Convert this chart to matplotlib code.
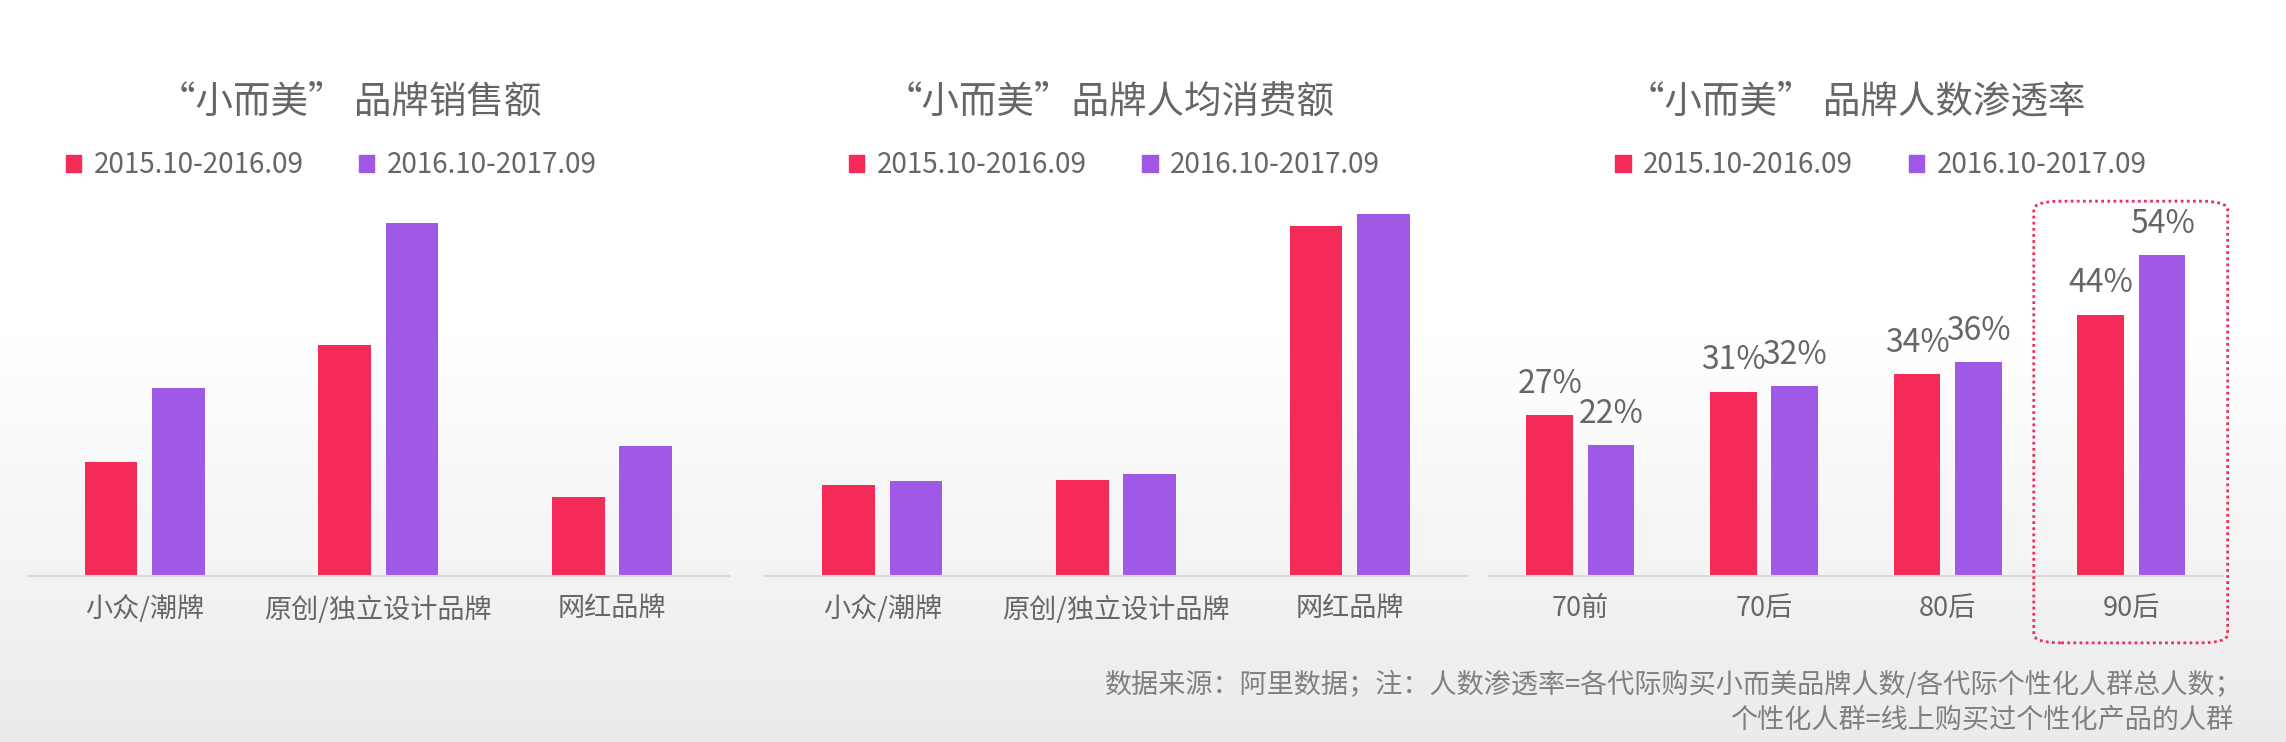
import numpy as np
import matplotlib
matplotlib.use('Agg')
import matplotlib.pyplot as plt
from matplotlib.patches import FancyBboxPatch, Patch

plt.rcParams['font.family'] = ['Noto Sans CJK SC', 'DejaVu Sans']

# data
series = ['2015.10-2016.09', '2016.10-2017.09']
brand_cats = ['小众/潮牌', '原创/独立设计品牌', '网红品牌']
sales_1516 = [78, 158, 54]
sales_1617 = [129, 242, 89]
spend_1516 = [62, 66, 240]
spend_1617 = [65, 70, 248]
age_cats = ['70前', '70后', '80后', '90后']
pen_1516 = [27, 31, 34, 44]
pen_1617 = [22, 32, 36, 54]

titles = ['“小而美” 品牌销售额', '“小而美”品牌人均消费额', '“小而美” 品牌人数渗透率']
note1 = '数据来源：阿里数据；注：人数渗透率=各代际购买小而美品牌人数/各代际个性化人群总人数；'
note2 = '个性化人群=线上购买过个性化产品的人群'

RED = '#f52a58'
PURPLE = '#9f59e6'
GRAY = '#666666'

W, H = 1568.0, 509.0  # layout measured in these units
fig = plt.figure(figsize=(22.86, 7.42), dpi=100)

# background gradient
bg = fig.add_axes([0, 0, 1, 1], zorder=-10)
grad = np.concatenate([np.ones(230), np.linspace(1, 0, 279)])[:, None]
bg.imshow(grad, aspect='auto', cmap=matplotlib.colors.LinearSegmentedColormap.from_list('g', ['#ebebeb', '#ffffff']),
          extent=[0, 1, 0, 1], vmin=0, vmax=1)
bg.axis('off')


def make_ax(x0, x1, top=140, base=395):
    return fig.add_axes([x0 / W, 1 - base / H, (x1 - x0) / W, (base - top) / H])


def style(ax, cats, n):
    ax.set_facecolor('none')
    for s in ['top', 'right', 'left']:
        ax.spines[s].set_visible(False)
    ax.spines['bottom'].set_color('#d9d9d9')
    ax.spines['bottom'].set_linewidth(1.5)
    ax.set_yticks([])
    ax.set_xticks(range(n))
    ax.set_xticklabels(cats, fontsize=19.5, color=GRAY)
    ax.tick_params(axis='x', length=0, pad=14)
    ax.set_xlim(-0.5, n - 0.5)


def legend(ax, cx):
    handles = [Patch(color=RED), Patch(color=PURPLE)]
    ax.legend(handles, series, loc='center', bbox_to_anchor=(cx, 1.105), ncol=2, frameon=False,
              fontsize=20, labelcolor=GRAY, handlelength=0.55, handleheight=0.55, handletextpad=0.45,
              columnspacing=2.0)


# panel 1
ax1 = make_ax(19, 500)
x = np.arange(len(brand_cats))
ax1.bar(x - 0.144, sales_1516, 0.225, color=RED)
ax1.bar(x + 0.144, sales_1617, 0.225, color=PURPLE)
ax1.set_ylim(0, 255)
style(ax1, brand_cats, len(brand_cats))
legend(ax1, 0.433)

# panel 2
ax2 = make_ax(525, 1006)
ax2.bar(x - 0.144, spend_1516, 0.225, color=RED)
ax2.bar(x + 0.144, spend_1617, 0.225, color=PURPLE)
ax2.set_ylim(0, 255)
style(ax2, brand_cats, len(brand_cats))
legend(ax2, 0.498)

# panel 3
ax3 = make_ax(1021, 1525)
xa = np.arange(len(age_cats))
b1 = ax3.bar(xa - 0.167, pen_1516, 0.254, color=RED)
b2 = ax3.bar(xa + 0.167, pen_1617, 0.254, color=PURPLE)
ax3.set_ylim(0, 62.6)
style(ax3, age_cats, len(age_cats))
legend(ax3, 0.534)
for bars, vals in [(b1, pen_1516), (b2, pen_1617)]:
    for b, v in zip(bars, vals):
        ax3.annotate('{}%'.format(v), (b.get_x() + b.get_width() / 2, v), xytext=(0, 11),
                     textcoords='offset points', ha='center', va='bottom', fontsize=23, color=GRAY)

# dotted highlight box around 90后
box = FancyBboxPatch((1395 / W, 1 - 441 / H), 133 / W, 303 / H,
                     boxstyle='round,pad=0,rounding_size=0.012', transform=fig.transFigure,
                     fill=False, edgecolor='#e8305a', linestyle=(0, (1, 1.2)), linewidth=2)
fig.patches.append(box)

# titles
for cx, t in zip([240, 761, 1273], titles):
    fig.text(cx / W, 1 - 70 / H, t, ha='center', va='center', fontsize=27, color=GRAY)

# footer notes
fig.text(1538 / W, 1 - 470 / H, note1, ha='right', va='center', fontsize=19.5, color='#7f7f7f')
fig.text(1532 / W, 1 - 494 / H, note2, ha='right', va='center', fontsize=19.5, color='#7f7f7f')

fig.savefig('out.png', dpi=100)
